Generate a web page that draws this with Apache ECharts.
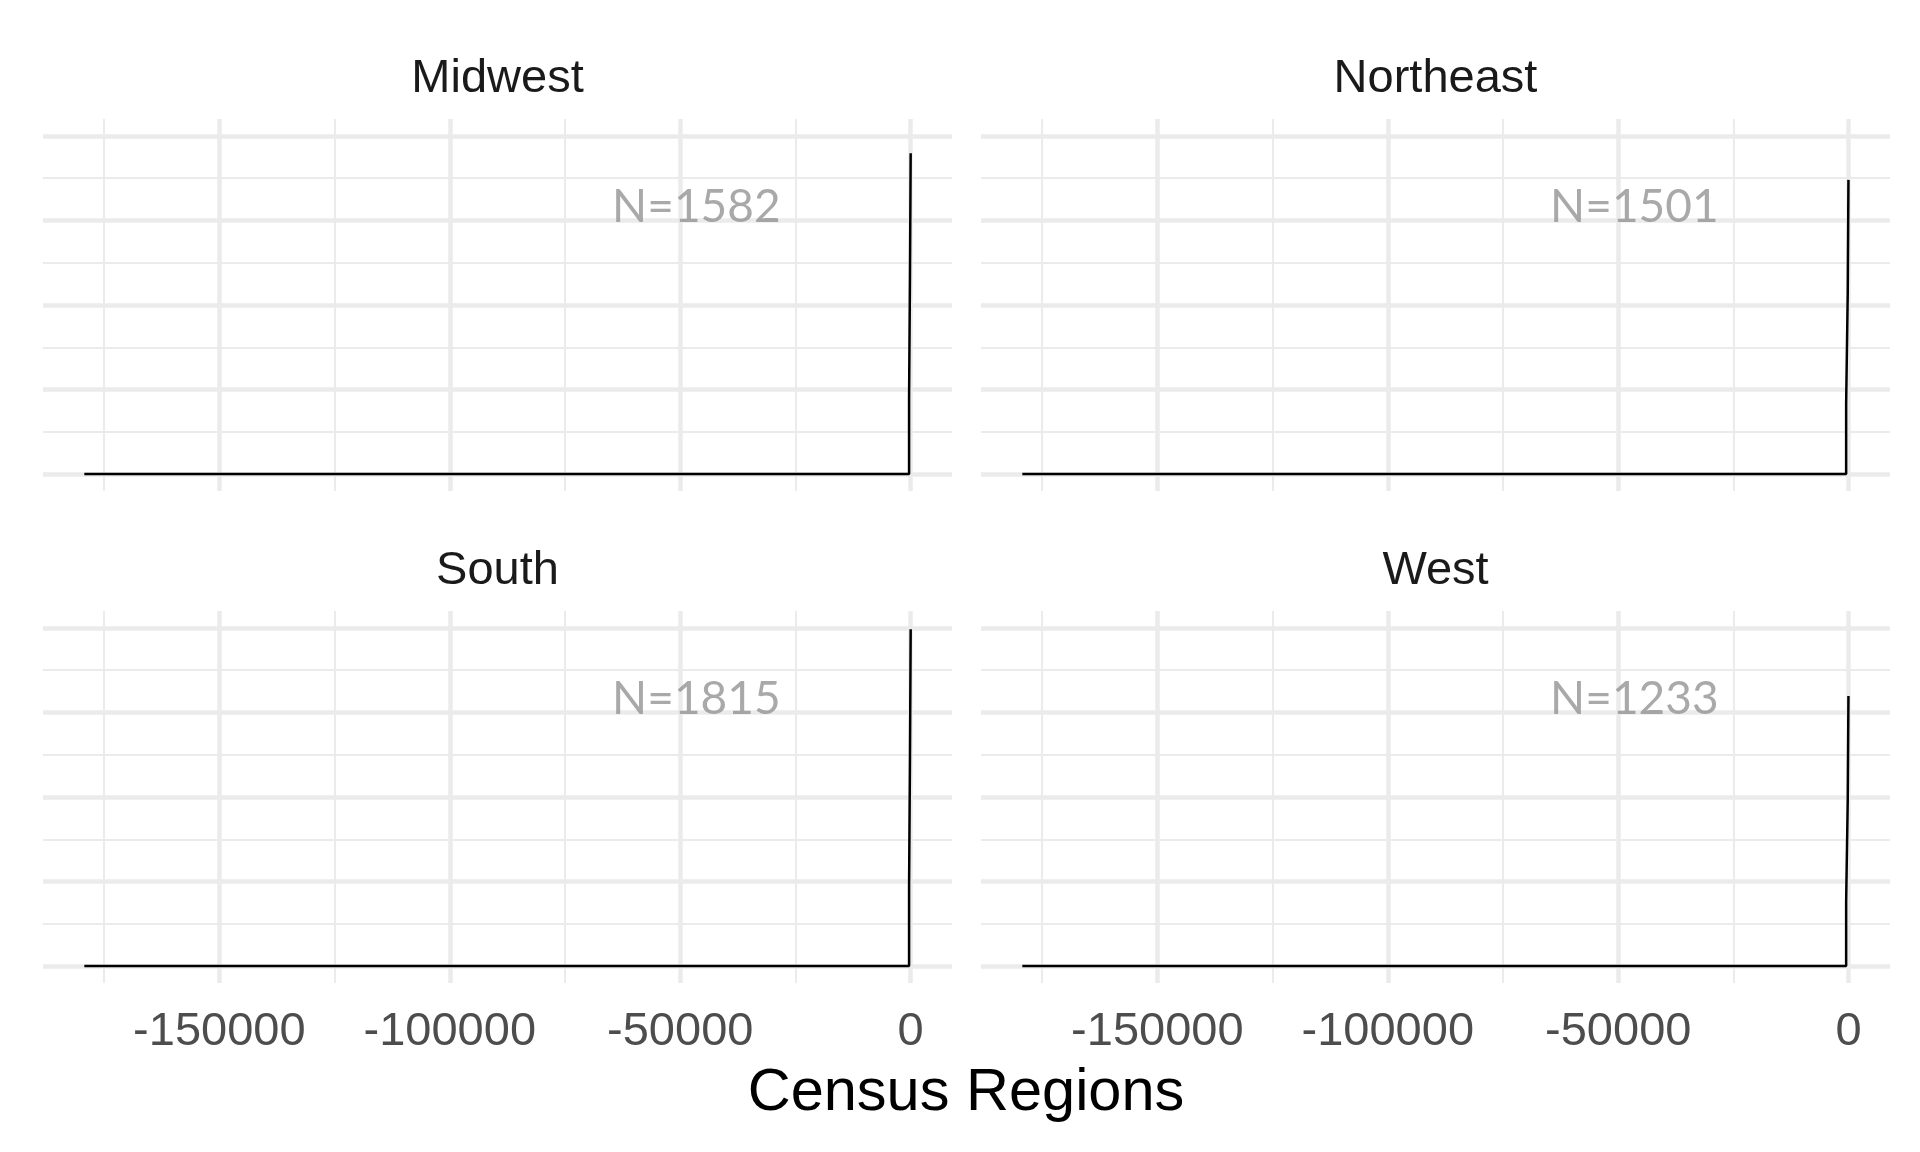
<!DOCTYPE html>
<html>
<head>
<meta charset="utf-8">
<script src="https://cdn.jsdelivr.net/npm/echarts@6/dist/echarts.min.js"></script>
<style>
html,body{margin:0;padding:0;background:#fff;}
#chart{width:1920px;height:1152px;}
</style>
</head>
<body>
<div id="chart"></div>
<script>
// ---- data ----
const regions = ['Midwest', 'Northeast', 'South', 'West'];
const nCounts = [1582, 1501, 1815, 1233];
const xStartValue = -179300;
const midwestRiseX = [-350, -150, 0];
const midwestLevel = [226, 587, 949];
const northeastRiseX = [-550, -200, -50];
const northeastLevel = [208, 539, 870];
const southRiseX = [-350, -150, 0];
const southLevel = [237, 617, 996];
const westRiseX = [-550, -200, -50];
const westLevel = [190, 494, 799];
const xTickValues = [-150000, -100000, -50000, 0];
const xMinorValues = [-175000, -125000, -75000, -25000];
const yMajorValues = [0, 250, 500, 750, 1000];
const yMinorValues = [125, 375, 625, 875];
const labelX = -46500;
const labelY = 790;

const riseXs = [midwestRiseX, northeastRiseX, southRiseX, westRiseX];
const levels = [midwestLevel, northeastLevel, southLevel, westLevel];

// ---- layout ----
const gridPos = [
  {left: 43, top: 119},
  {left: 981, top: 119},
  {left: 43, top: 611},
  {left: 981, top: 611}
];
const titlePos = [[497.5, 79], [1435.5, 79], [497.5, 571], [1435.5, 571]];

function stepLine(xs, ys) {
  const pts = [[xStartValue, 0]];
  let prev = 0;
  for (let i = 0; i < xs.length; i++) {
    pts.push([xs[i], prev]);
    pts.push([xs[i], ys[i]]);
    prev = ys[i];
  }
  return pts;
}

const grids = [], xAxes = [], yAxes = [], series = [], graphics = [];
const major = {color: '#ebebeb', width: 4.5, type: 'solid'};
const minor = {color: '#ebebeb', width: 2, type: 'solid'};

regions.forEach((r, i) => {
  grids.push({left: gridPos[i].left, top: gridPos[i].top, width: 909, height: 372, containLabel: false});
  const bottom = i >= 2;
  xAxes.push({
    type: 'value', gridIndex: i, min: -188265, max: 8965,
    axisLine: {show: false}, axisTick: {show: false}, splitLine: {show: false},
    axisLabel: {
      show: bottom, customValues: xTickValues, margin: 26,
      formatter: v => String(v),
      fontSize: 47, color: '#4d4d4d', fontFamily: 'Liberation Sans, Arial, sans-serif'
    }
  });
  yAxes.push({
    type: 'value', gridIndex: i, min: -50, max: 1050,
    axisLine: {show: false}, axisTick: {show: false}, splitLine: {show: false},
    axisLabel: {show: false}
  });
  const mlData = []
    .concat(xMinorValues.map(v => ({xAxis: v, lineStyle: minor})))
    .concat(yMinorValues.map(v => ({yAxis: v, lineStyle: minor})))
    .concat(xTickValues.map(v => ({xAxis: v, lineStyle: major})))
    .concat(yMajorValues.map(v => ({yAxis: v, lineStyle: major})));
  series.push({
    type: 'line', xAxisIndex: i, yAxisIndex: i, data: [], z: 1,
    markLine: {silent: true, symbol: ['none', 'none'], label: {show: false}, data: mlData, z: 1}
  });
  series.push({
    type: 'line', xAxisIndex: i, yAxisIndex: i, z: 5,
    showSymbol: false, symbol: 'none',
    lineStyle: {color: '#000', width: 2.5},
    data: stepLine(riseXs[i], levels[i])
  });
  series.push({
    type: 'scatter', xAxisIndex: i, yAxisIndex: i, z: 6,
    symbolSize: 1, itemStyle: {color: 'rgba(0,0,0,0)'},
    data: [[labelX, labelY]],
    label: {
      show: true, position: 'inside', formatter: 'N=' + nCounts[i],
      fontFamily: 'Lato', fontSize: 46, color: '#949494'
    }
  });
  graphics.push({
    type: 'text', x: titlePos[i][0], y: titlePos[i][1],
    style: {text: r, textAlign: 'center', textVerticalAlign: 'middle',
      font: '47px "Liberation Sans", Arial, sans-serif', fill: '#1a1a1a'}
  });
});

graphics.push({
  type: 'text', x: 966, y: 1094,
  style: {text: 'Census Regions', textAlign: 'center', textVerticalAlign: 'middle',
    font: '59.5px "Liberation Sans", Arial, sans-serif', fill: '#000'}
});

const chart = echarts.init(document.getElementById('chart'));
chart.setOption({
  animation: false,
  backgroundColor: '#fff',
  grid: grids,
  xAxis: xAxes,
  yAxis: yAxes,
  series: series,
  graphic: graphics
});
</script>
</body>
</html>
